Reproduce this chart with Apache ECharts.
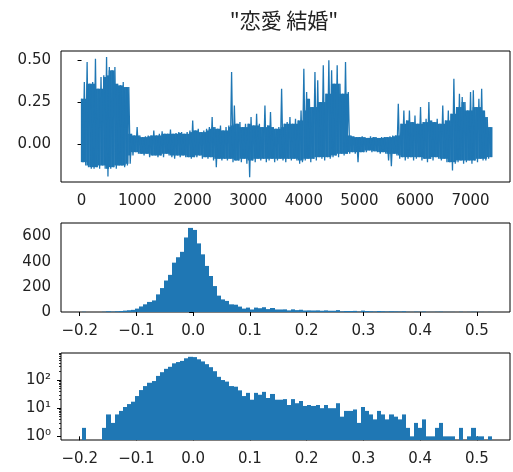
<!DOCTYPE html>
<html>
<head>
<meta charset="utf-8">
<script src="https://cdn.jsdelivr.net/npm/echarts@6/dist/echarts.min.js"></script>
<style>
  html, body { margin: 0; padding: 0; background: #fff; }
  #chart { width: 513px; height: 472px; }
</style>
</head>
<body>
<div id="chart"></div>
<script>
// ---- time series: upper / lower swing of the signal, one pair every 50 steps ----
const SAMPLE_STEP = 50;
const seriesHigh = [
  0.27, 0.37, 0.49, 0.36, 0.37, 0.51, 0.33, 0.40, 0.41, 0.52, 0.46, 0.44, 0.46, 0.36, 0.35, 0.37, 0.34, 0.34,
  0.06, 0.05, 0.10, 0.05, 0.04, 0.045, 0.05, 0.05, 0.08, 0.05, 0.06, 0.075, 0.06, 0.06, 0.085, 0.06, 0.065, 0.07, 0.07, 0.06, 0.07, 0.08,
  0.14, 0.08, 0.09, 0.07, 0.08, 0.09, 0.10, 0.16, 0.10, 0.09, 0.11, 0.08, 0.10, 0.11, 0.43, 0.23, 0.12, 0.13, 0.10, 0.12,
  0.12, 0.16, 0.11, 0.18, 0.12, 0.10, 0.23, 0.11, 0.19, 0.10, 0.09, 0.10, 0.33, 0.12, 0.13, 0.16, 0.12, 0.15, 0.14, 0.20,
  0.45, 0.31, 0.27, 0.22, 0.43, 0.38, 0.25, 0.47, 0.30, 0.50, 0.44, 0.36, 0.47, 0.36, 0.30, 0.49, 0.31,
  0.05, 0.045, 0.04, 0.04, 0.045, 0.04, 0.035, 0.045, 0.04, 0.04, 0.035, 0.04, 0.04, 0.04, 0.045, 0.05, 0.05,
  0.24, 0.12, 0.20, 0.14, 0.20, 0.13, 0.17, 0.12, 0.22, 0.13, 0.15, 0.25, 0.14, 0.13, 0.15, 0.12, 0.23, 0.14,
  0.20, 0.18, 0.39, 0.22, 0.30, 0.28, 0.25, 0.20, 0.31, 0.32, 0.22, 0.27, 0.33, 0.20, 0.16, 0.10
];
const seriesLow = [
  -0.11, -0.13, -0.14, -0.15, -0.15, -0.14, -0.15, -0.13, -0.15, -0.196, -0.15, -0.14, -0.15, -0.13, -0.13, -0.14, -0.13, -0.12,
  -0.07, -0.05, -0.06, -0.06, -0.07, -0.06, -0.08, -0.07, -0.07, -0.08, -0.07, -0.08, -0.06, -0.07, -0.08, -0.09, -0.07, -0.08, -0.07, -0.08, -0.08, -0.09,
  -0.08, -0.08, -0.07, -0.09, -0.08, -0.09, -0.08, -0.10, -0.14, -0.09, -0.10, -0.09, -0.10, -0.09, -0.11, -0.10, -0.10, -0.11, -0.09, -0.12,
  -0.20, -0.10, -0.11, -0.09, -0.10, -0.09, -0.11, -0.10, -0.09, -0.11, -0.10, -0.09, -0.10, -0.11, -0.09, -0.10, -0.09, -0.10, -0.12, -0.11,
  -0.10, -0.09, -0.11, -0.09, -0.10, -0.08, -0.09, -0.10, -0.08, -0.09, -0.08, -0.07, -0.08, -0.06, -0.07, -0.06, -0.06,
  -0.05, -0.06, -0.11, -0.05, -0.05, -0.05, -0.04, -0.05, -0.045, -0.05, -0.06, -0.05, -0.06, -0.10, -0.135, -0.06, -0.07,
  -0.09, -0.08, -0.10, -0.09, -0.08, -0.10, -0.09, -0.08, -0.10, -0.09, -0.11, -0.09, -0.10, -0.08, -0.09, -0.10, -0.09, -0.11,
  -0.11, -0.16, -0.12, -0.11, -0.10, -0.12, -0.11, -0.10, -0.12, -0.10, -0.11, -0.09, -0.10, -0.10, -0.09, -0.08
];

// ---- histogram of the same values: 100 equal bins ----
const BIN_START = -0.1963;
const BIN_WIDTH = 0.00723;
const binCounts = [
  2, 0, 0, 0, 0, 2, 6, 3, 6, 8,
  11, 14, 17, 27, 44, 61, 80, 92, 140, 190,
  250, 295, 392, 435, 478, 592, 668, 652, 545, 458,
  366, 286, 206, 130, 100, 88, 61, 58, 43, 27,
  35, 20, 35, 30, 38, 23, 32, 20, 20, 21,
  13, 21, 15, 18, 12, 13, 12, 13, 10, 13,
  10, 10, 15, 5, 8, 8, 9, 3, 11, 8,
  6, 4, 8, 6, 4, 6, 5, 4, 6, 2,
  1, 3, 2, 4, 1, 1, 2, 3, 1, 1,
  1, 0, 2, 0, 1, 2, 1, 1, 0, 1
];

// ---- tick labels ----
const timeTicks = [0, 1000, 2000, 3000, 4000, 5000, 6000, 7000];
const valueTicks = [0, 0.25, 0.5];
const binTicks = [-0.2, -0.1, 0, 0.1, 0.2, 0.3, 0.4, 0.5];
const countTicks = [0, 200, 400, 600];
const logTicks = [0, 1, 2];
const SUP = { 0: '\u2070', 1: '\u00B9', 2: '\u00B2' };

const BLUE = '#1f77b4';
const INK = '#222';
const FONT = 'DejaVu Sans';

// line points: each sample contributes its upper then its lower swing
const linePoints = [];
for (let i = 0; i < seriesHigh.length; i++) {
  const t = i * SAMPLE_STEP;
  linePoints.push([t, seriesHigh[i]]);
  linePoints.push([t + SAMPLE_STEP / 2, seriesLow[i]]);
}

// dense core of the trace: the band every neighbouring swing passes through,
// so isolated spikes stay thin strokes of the line above it
const coreRows = seriesHigh.map((h, i) => {
  const j0 = Math.max(0, i - 1), j1 = Math.min(seriesHigh.length - 1, i + 1);
  const top = Math.min(seriesHigh[j0], h, seriesHigh[j1]);
  const bottom = Math.max(seriesLow[j0], seriesLow[i], seriesLow[j1]);
  return [i * SAMPLE_STEP, bottom, top];
});

function renderCore(params, api) {
  const t = api.value(0);
  const a = api.coord([t - SAMPLE_STEP / 4, api.value(2)]);
  const b = api.coord([t + SAMPLE_STEP * 3 / 4, api.value(1)]);
  return {
    type: 'rect',
    shape: { x: a[0], y: a[1], width: b[0] - a[0] + 0.4, height: b[1] - a[1] },
    style: { fill: BLUE }
  };
}

const binRows = binCounts.map((c, i) => [BIN_START + i * BIN_WIDTH, BIN_START + (i + 1) * BIN_WIDTH, c]);
const binRowsPositive = binRows.filter(r => r[2] > 0);

// bars share whole-pixel edges so neighbouring bins join without seams
function renderBin(params, api) {
  const c = api.value(2);
  if (!(c > 0)) return null;
  const a = api.coord([api.value(0), c]);
  const b = api.coord([api.value(1), c]);
  const cs = params.coordSys;
  const base = cs.y + cs.height;
  const x0 = Math.round(a[0]), x1 = Math.round(b[0]);
  return {
    type: 'rect',
    shape: { x: x0, y: a[1], width: x1 - x0, height: base - a[1] },
    style: { fill: BLUE }
  };
}

const minus = s => s.replace('-', '\u2212');
const labelStyle = { color: INK, fontFamily: FONT, fontSize: 15 };
const tickStyle = { lineStyle: { color: '#000', width: 1 } };

function xAxisOf(gridIndex, min, max, ticks, fmt) {
  return {
    type: 'value', gridIndex, min, max,
    axisLine: { show: false },
    splitLine: { show: false },
    axisTick: { show: true, inside: false, length: 4, customValues: ticks, ...tickStyle },
    axisLabel: { ...labelStyle, margin: 12, customValues: ticks, formatter: fmt }
  };
}
function yAxisOf(gridIndex, min, max, ticks, fmt) {
  return {
    type: 'value', gridIndex, min, max, position: 'left', offset: 0,
    axisLine: { show: false },
    splitLine: { show: false },
    axisTick: { show: true, inside: false, length: 4, customValues: ticks, ...tickStyle },
    axisLabel: { ...labelStyle, margin: 10, customValues: ticks, formatter: fmt }
  };
}

const minorLog = [];
for (const d of [0, 1, 2]) for (let k = 2; k <= 9; k++) minorLog.push(d + Math.log10(k));

const LOG_MIN_EXP = -0.13, LOG_MAX_EXP = 2.96;

const option = {
  animation: false,
  backgroundColor: '#fff',
  title: {
    text: '"恋愛 結婚"',
    left: 279, top: 5, textAlign: 'center',
    textStyle: { fontFamily: 'Noto Sans CJK JP', fontSize: 21, fontWeight: 'normal', color: INK }
  },
  grid: [
    { left: 61, top: 51, width: 449, height: 131, show: true, borderColor: '#000', borderWidth: 1, containLabel: false },
    { left: 61, top: 223, width: 449, height: 89, show: true, borderColor: '#000', borderWidth: 1, containLabel: false },
    { left: 61, top: 353, width: 449, height: 87, show: true, borderColor: '#000', borderWidth: 1, containLabel: false }
  ],
  xAxis: [
    xAxisOf(0, -370, 7710, timeTicks, v => String(Math.round(v))),
    xAxisOf(1, -0.233, 0.5585, binTicks, v => minus(v.toFixed(1))),
    xAxisOf(2, -0.233, 0.5585, binTicks, v => minus(v.toFixed(1)))
  ],
  yAxis: [
    yAxisOf(0, -0.229, 0.556, valueTicks, v => v.toFixed(2)),
    yAxisOf(1, 0, 707, countTicks, v => String(Math.round(v))),
    {
      type: 'log', logBase: 10, gridIndex: 2, position: 'left', offset: 0,
      min: Math.pow(10, LOG_MIN_EXP), max: Math.pow(10, LOG_MAX_EXP),
      axisLine: { show: false }, axisTick: { show: false }, axisLabel: { show: false }, splitLine: { show: false }
    },
    yAxisOf(2, LOG_MIN_EXP, LOG_MAX_EXP, logTicks, v => '10' + SUP[Math.round(v)]),
    {
      type: 'value', gridIndex: 2, position: 'left', offset: 0, min: LOG_MIN_EXP, max: LOG_MAX_EXP,
      axisLine: { show: false }, splitLine: { show: false }, axisLabel: { show: false },
      axisTick: { show: true, inside: false, length: 2, customValues: minorLog, lineStyle: { color: '#000', width: 0.8 } }
    }
  ],
  series: [
    {
      type: 'custom', xAxisIndex: 0, yAxisIndex: 0, data: coreRows,
      encode: { x: 0, y: [1, 2] }, renderItem: renderCore, clip: true
    },
    {
      type: 'line', xAxisIndex: 0, yAxisIndex: 0, data: linePoints,
      showSymbol: false, symbol: 'none',
      lineStyle: { color: BLUE, width: 1.3 }, clip: true
    },
    {
      type: 'custom', xAxisIndex: 1, yAxisIndex: 1, data: binRows,
      encode: { x: [0, 1], y: 2 }, renderItem: renderBin, clip: true
    },
    {
      type: 'custom', xAxisIndex: 2, yAxisIndex: 2, data: binRowsPositive,
      encode: { x: [0, 1], y: 2 }, renderItem: renderBin, clip: true
    }
  ]
};

const chart = echarts.init(document.getElementById('chart'), null, { renderer: 'canvas' });
chart.setOption(option);
</script>
</body>
</html>
